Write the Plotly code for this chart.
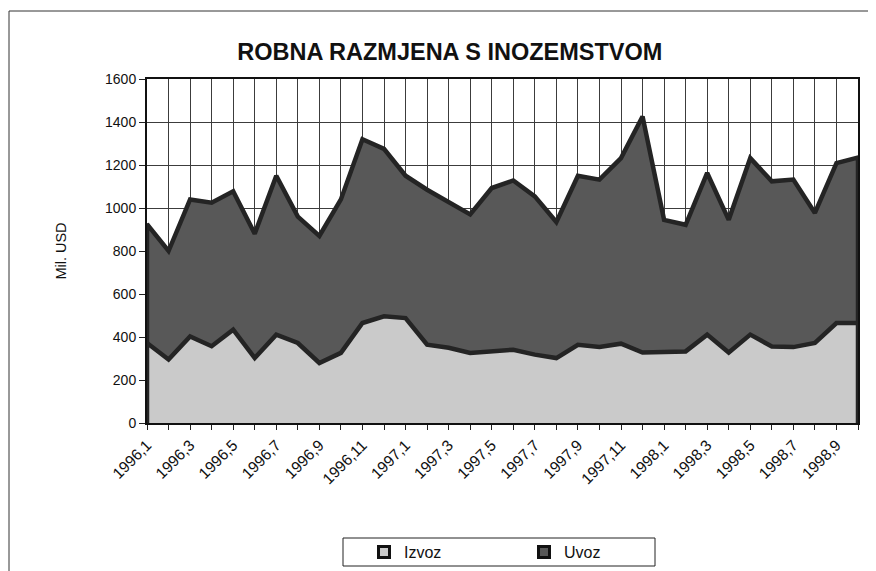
import plotly.graph_objects as go

# monthly data, 1996,1 .. 1998,10 (Mil. USD)
mjeseci = [f"{g},{m}" for g in (1996, 1997) for m in range(1, 13)] + [f"1998,{m}" for m in range(1, 11)]

izvoz = [372, 295, 403, 357, 434, 302, 411, 372, 279, 326, 465, 496,
         488, 364, 350, 326, 333, 341, 318, 302, 364, 354, 369, 328,
         330, 333, 411, 328, 411, 356, 353, 372, 465, 465]

uvoz = [925, 800, 1040, 1025, 1078, 880, 1150, 960, 870, 1040, 1320, 1275,
        1150, 1085, 1030, 970, 1093, 1128, 1054, 935, 1150, 1132, 1232, 1426,
        945, 922, 1163, 945, 1232, 1124, 1132, 977, 1209, 1235]

FONT = "Liberation Sans, Arial, sans-serif"
OUTLINE = "#242424"
BOJE = {"Izvoz": "#cacaca", "Uvoz": "#585858"}

idx = list(range(len(mjeseci)))

# page body adds an 8px margin, so the figure is a bit smaller than the window
W, H = 868, 563
L, T, PW, PH = 139, 71, 711, 344


def px(fx):
    return (fx - L) / PW


def py(fy):
    return (T + PH - fy) / PH


def area(name, values):
    # closed polygon so the outline runs along the base and both ends, like the original
    xs = [idx[0]] + idx + [idx[-1]]
    ys = [0] + values + [0]
    return go.Scatter(x=xs, y=ys, name=name, mode="lines", fill="toself",
                      fillcolor=BOJE[name], line=dict(color=OUTLINE, width=4.5),
                      showlegend=False, hoverinfo="skip")


def legend_key(name, rank):
    return go.Scatter(x=[None], y=[None], name=name, mode="markers", legendrank=rank,
                      marker=dict(symbol="square", size=11, color=BOJE[name],
                                  line=dict(color="#111", width=3)))


fig = go.Figure()
fig.add_trace(area("Uvoz", uvoz))
fig.add_trace(area("Izvoz", izvoz))
fig.add_trace(legend_key("Izvoz", 1))
fig.add_trace(legend_key("Uvoz", 2))

fig.update_layout(
    width=W, height=H,
    margin=dict(l=L, r=W - L - PW, t=T, b=H - T - PH, autoexpand=False),
    paper_bgcolor="white", plot_bgcolor="white",
    font=dict(family=FONT, size=13, color="#111"),
    title=dict(text="<b>ROBNA RAZMJENA S INOZEMSTVOM</b>", x=0.509, xanchor="center",
               y=0.922, yanchor="middle", font=dict(size=23.5, color="#111")),
    showlegend=True,
    legend=dict(orientation="h", x=px(356), xanchor="left", y=py(544), yanchor="middle",
                borderwidth=0, bgcolor="rgba(0,0,0,0)",
                font=dict(size=16), entrywidth=115, itemwidth=30),
)

fig.update_xaxes(
    range=[idx[0], idx[-1]], automargin=False,
    tickmode="array", tickvals=idx[::2], ticktext=mjeseci[::2], tickangle=-45,
    ticks="outside", ticklen=5, tickcolor="#222",
    showgrid=True, gridcolor="#3c3c3c", gridwidth=1,
    minor=dict(tickmode="linear", tick0=0, dtick=1, showgrid=True, gridcolor="#3c3c3c",
               gridwidth=1, ticks="outside", ticklen=5, tickcolor="#222"),
    showline=True, linecolor="#111", linewidth=2, mirror=True,
    zeroline=False, tickfont=dict(size=15.5),
)

fig.update_yaxes(
    range=[0, 1600], dtick=200, automargin=False,
    ticks="outside", ticklen=6, tickcolor="#222",
    showgrid=True, gridcolor="#3c3c3c", gridwidth=1,
    showline=True, linecolor="#111", linewidth=2, mirror=True,
    zeroline=False, tickfont=dict(size=14),
    title=dict(text="Mil. USD", font=dict(size=14.5), standoff=35),
)

# outer frame of the chart and the legend box
fig.add_shape(type="rect", xref="paper", yref="paper",
              x0=px(1), x1=px(861), y0=py(575), y1=py(3),
              line=dict(color="#333", width=1), fillcolor="rgba(0,0,0,0)", layer="below")
fig.add_shape(type="rect", xref="paper", yref="paper",
              x0=px(335), x1=px(647), y0=py(558), y1=py(530),
              line=dict(color="#222", width=1), fillcolor="white", layer="below")

fig.write_html("out.html")
